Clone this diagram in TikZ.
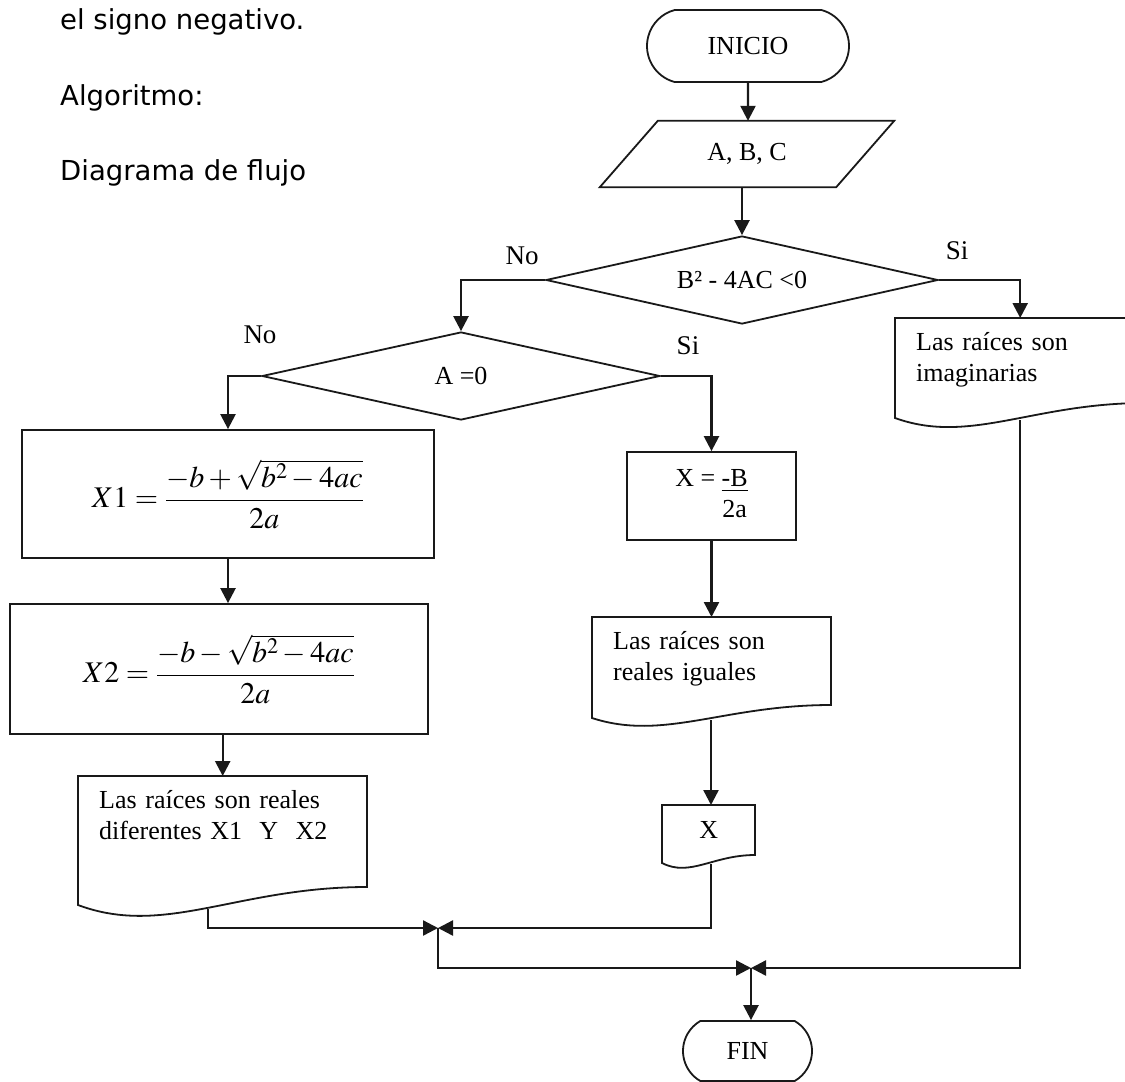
\documentclass[tikz,border=0pt]{standalone}
\usepackage{mathptmx}
\usepackage{fontspec}
\setmainfont{Liberation Serif}
\newfontfamily\notesans{DejaVu Sans}
\usetikzlibrary{shapes.geometric,shapes.misc,arrows.meta,calc}

\newcommand\mainsz{\fontsize{26}{31}\selectfont}
\newcommand\labsz{\fontsize{27}{32}\selectfont}
\newcommand\mathsz{\fontsize{30}{36}\selectfont}

% document symbol: top edge at y=#1, sides x=#2..#3, left foot #4, right foot #5
\newcommand\docoutline[5]{%
  \draw[shp] (#2,#1) -- (#3,#1) -- (#3,#5)
    .. controls ({#2+0.55*(#3-#2)},#5) and ({#2+0.3*(#3-#2)},{#4+1.8*(#4-#5)}) ..
    (#2,#4) -- cycle;}

\begin{document}
\begin{tikzpicture}[x=1pt,y=-1pt,
  shp/.style={draw=black!90,line width=1.8pt,line join=miter},
  conn/.style={line width=2.4pt,draw=black!90},
  arr/.style={conn,-{Triangle[length=15pt,width=15pt]}},
  term/.style={rounded rectangle,shp,inner sep=0pt,font=\mainsz},
  decision/.style={diamond,shp,inner sep=0pt,font=\mainsz},
  proc/.style={rectangle,shp,inner sep=0pt},
  doctext/.style={anchor=north west,align=left,inner xsep=21pt,inner ysep=14pt,font=\mainsz},
  lbl/.style={font=\labsz,inner sep=0pt},
  note/.style={font=\notesans\fontsize{27.5}{32}\selectfont,anchor=base west,inner sep=0pt}]

\useasboundingbox (0,0) rectangle (1125,1082);
\fill[white] (0,0) rectangle (1125,1082);
\clip (0,0) rectangle (1125,1082);

% heading text
\node[note] (t1) at (60,29) {el signo negativo.};
\node[note] (t2) at (60,105) {Algoritmo:};
\node[note] (t3) at (60,180) {Diagrama de flujo};

% start and input
\node[term,minimum width=202pt,minimum height=72pt,rounded rectangle arc length=150] (ini) at (748,46) {INICIO};
\node[inner sep=0pt,minimum width=236pt,minimum height=66pt,font=\mainsz] (io) at (747,154) {A, B, C};
\draw[shp] ($(io.north west)+(29,0)$) -- ($(io.north east)+(29,0)$)
  -- ($(io.south east)+(-29,0)$) -- ($(io.south west)+(-29,0)$) -- cycle;

% decisions
\node[decision,aspect=4.45,minimum width=392pt,minimum height=88pt] (d1) at (742,280) {B² - 4AC <0};
\node[decision,aspect=4.5,minimum width=398pt,minimum height=88pt] (d2) at (461,376) {A =0};

\node[lbl] (no1) at (522,256) {No};
\node[lbl] (si1) at (957,251) {Si};
\node[lbl] (no2) at (260,335) {No};
\node[lbl] (si2) at (688,346) {Si};

% process boxes
\node[proc,minimum width=412pt,minimum height=128pt] (x1) at (228,494)
  {\mathsz $\displaystyle X1=\frac{-b+\sqrt{b^2-4ac}}{2a}$};
\node[proc,minimum width=418pt,minimum height=130pt] (x2) at (219,669)
  {\mathsz $\displaystyle X2=\frac{-b-\sqrt{b^2-4ac}}{2a}$};
\node[proc,minimum width=169pt,minimum height=88pt,font=\mainsz] (xb) at (711.5,496)
  {X = \begin{tabular}[t]{@{}c@{}}\underline{-B}\\2a\end{tabular}};

% documents
\node[doctext,text width=208pt] (im) at (895,318) {Las raíces son\\imaginarias};
\docoutline{318}{895}{1145}{418}{403}
\node[doctext,text width=247pt] (dif) at (78,776) {Las raíces son reales\\diferentes X1~ Y~ X2};
\docoutline{776}{78}{367}{905}{887}
\node[doctext,text width=197pt] (ig) at (592,617) {Las raíces son\\reales iguales};
\docoutline{617}{592}{831}{718}{705}
\node[anchor=north west,inner sep=0pt,minimum width=93pt,minimum height=50pt,font=\mainsz] (xd) at (662,805) {X};
\docoutline{805}{662}{755}{863}{855}

% end
\node[term,minimum width=129pt,minimum height=60pt,rounded rectangle arc length=120] (fin) at (747.5,1051) {FIN};

% exits of the document symbols and junctions
\coordinate (imout) at (1020,420);
\coordinate (difout) at (208,909);
\coordinate (igout) at (711,720);
\coordinate (xdout) at (711,864);
\coordinate (m1) at (438,928);
\coordinate (m2) at (751,968);

% connectors
\draw[arr] (ini) -- (ini |- io.north);
\draw[arr] (d1.north |- io.south) -- (d1.north);
\draw[arr] (d1.west) -| (d2.north);
\draw[arr] (d1.east) -| (im.north);
\draw[arr] (d2.west) -| (x1.north);
\draw[arr] (d2.east) -| (xb.north);
\draw[arr] (x1.south) -- (x1.south |- x2.north);
\draw[arr] (dif.north |- x2.south) -- (dif.north);
\draw[arr] (xb.south) -- (xb.south |- ig.north);
\draw[arr] (igout) -- (igout |- xd.north);
\draw[arr] (difout) |- (m1);
\draw[arr] (xdout) |- (m1);
\draw[arr] (m1) |- (m2);
\draw[arr] (imout) |- (m2);
\draw[arr] (m2) -- (m2 |- fin.north);
\end{tikzpicture}
\end{document}
